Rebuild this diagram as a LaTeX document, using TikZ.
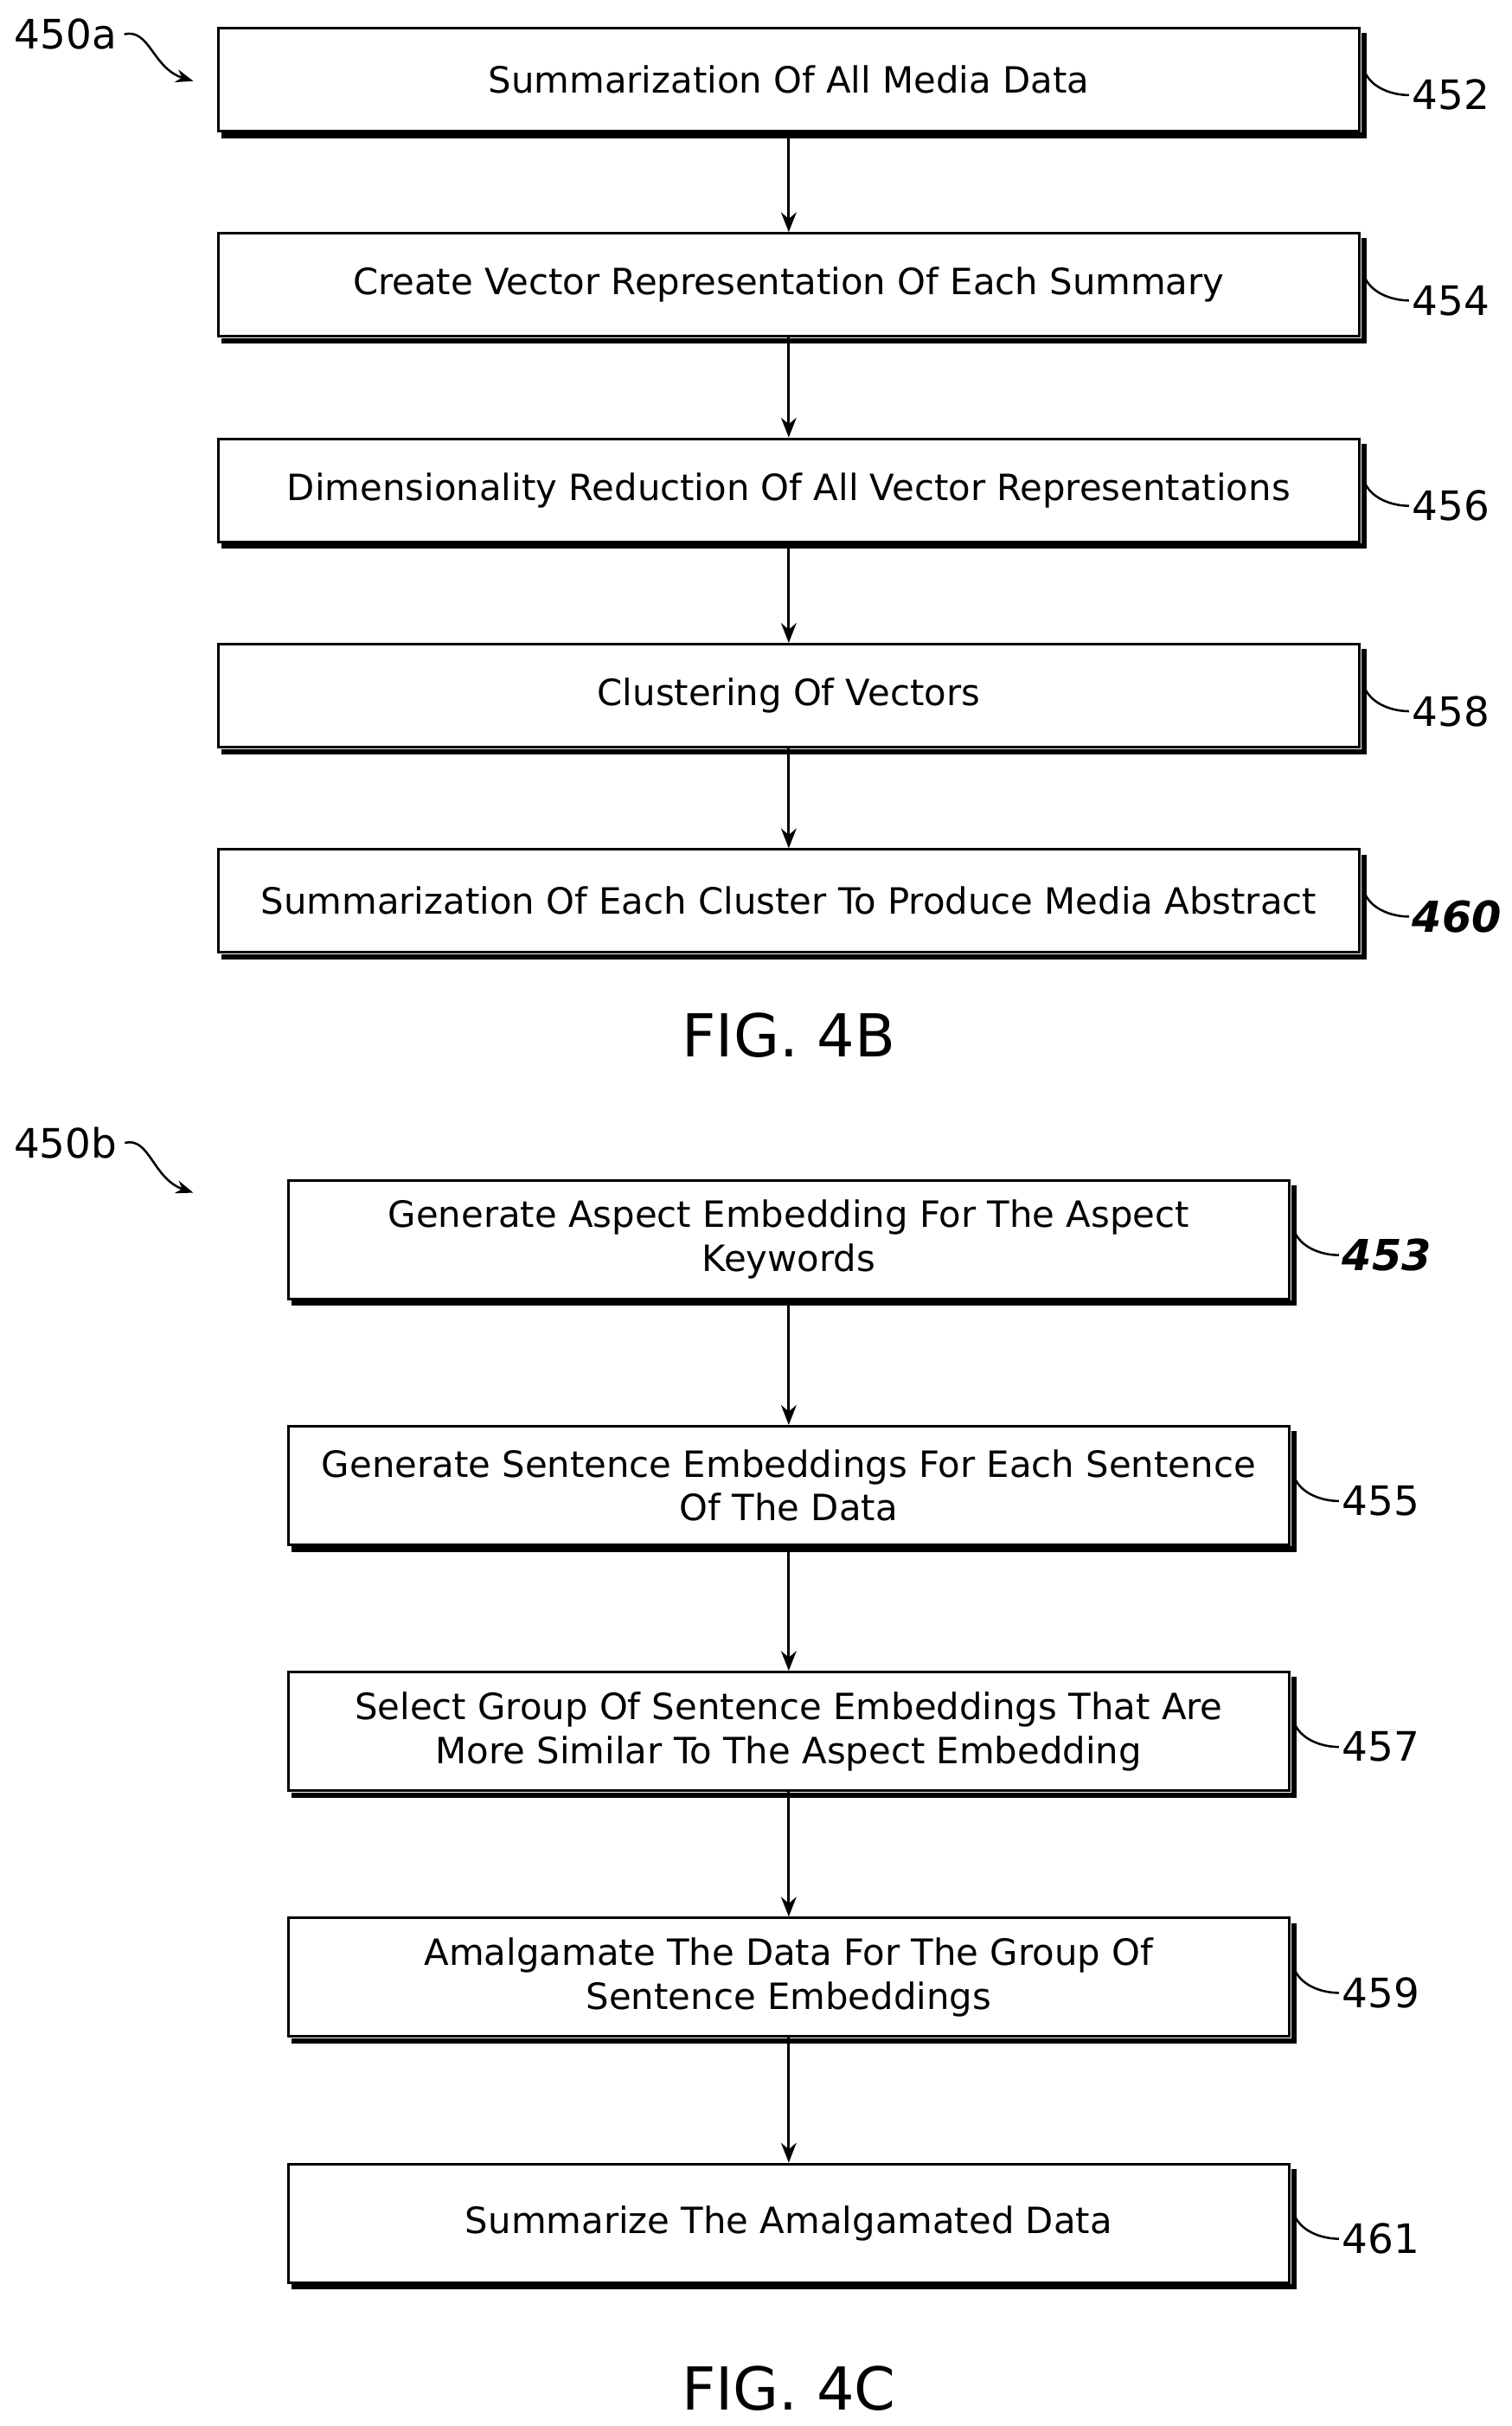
\documentclass[tikz,border=0pt]{standalone}
\usepackage{fontspec}
\setmainfont{DejaVu Sans}
\usetikzlibrary{arrows.meta,positioning}
\tikzset{
  procbox/.style={draw, line width=1.2pt, align=center, inner sep=0pt,
    font=\fontsize{16.5}{20}\selectfont},
  stepa/.style={procbox, minimum width=18.3cm, minimum height=1.65cm},
  stepb/.style={procbox, minimum width=16.05cm, minimum height=1.9cm},
  flow/.style={-{Stealth[length=9pt,width=7pt]}, line width=1.2pt},
  refnum/.style={font=\fontsize{18.5}{22}\selectfont, right, inner sep=1pt},
  fig/.style={font=\fontsize{27}{32}\selectfont}
}
\begin{document}
\begin{tikzpicture}[x=0.025cm, y=-0.025cm]
  \useasboundingbox (0,0) rectangle (970,1556);
  % FIG. 4B
  \node[stepa] (s452) at (506,51) {Summarization Of All Media Data};
  \node[stepa, below=1.6cm of s452] (s454) {Create Vector Representation Of Each Summary};
  \node[stepa, below=1.6cm of s454] (s456) {Dimensionality Reduction Of All Vector Representations};
  \node[stepa, below=1.6cm of s456] (s458) {Clustering Of Vectors};
  \node[stepa, below=1.6cm of s458] (s460) {Summarization Of Each Cluster To Produce Media Abstract};
  \node[fig] (fig4b) at (506,664) {FIG. 4B};
  \node[font=\fontsize{18.5}{22}\selectfont] (r450a) at (42,22) {450a};
  \draw[-{Stealth[length=8pt]}, line width=1pt] (r450a.east) .. controls (96,18) and (98,44) .. (124,52);
  % FIG. 4C
  \node[stepb] (s453) at (506,795) {Generate Aspect Embedding For The Aspect\\Keywords};
  \node[stepb, below=2.0cm of s453] (s455) {Generate Sentence Embeddings For Each Sentence\\Of The Data};
  \node[stepb, below=2.0cm of s455] (s457) {Select Group Of Sentence Embeddings That Are\\More Similar To The Aspect Embedding};
  \node[stepb, below=2.0cm of s457] (s459) {Amalgamate The Data For The Group Of\\Sentence Embeddings};
  \node[stepb, below=2.0cm of s459] (s461) {Summarize The Amalgamated Data};
  \node[fig] (fig4c) at (506,1532) {FIG. 4C};
  \node[font=\fontsize{18.5}{22}\selectfont] (r450b) at (42,733) {450b};
  \draw[-{Stealth[length=8pt]}, line width=1pt] (r450b.east) .. controls (96,729) and (98,756) .. (124,765);
  % arrows
  \foreach \a/\b in {s452/s454,s454/s456,s456/s458,s458/s460,s453/s455,s455/s457,s457/s459,s459/s461}
    \draw[flow] (\a) -- (\b);
  % shadow edges
  \foreach \b in {s452,s454,s456,s458,s460,s453,s455,s457,s459,s461}
    \draw[line width=2.4pt] ([shift={(3,2)}]\b.south west) -- ([shift={(2,2)}]\b.south east) -- ([shift={(2,4)}]\b.north east);
  % reference numerals
  \foreach \b/\t in {s452/452,s454/454,s456/456,s458/458,s455/455,s457/457,s459/459,s461/461}
    \draw[line width=1pt] ([shift={(3,-4)}]\b.east) .. controls +(5,10) and +(-10,0) .. ++(28,14) node[refnum] {\t};
  \foreach \b/\t in {s460/460,s453/453}
    \draw[line width=1pt] ([shift={(3,-4)}]\b.east) .. controls +(5,10) and +(-10,0) .. ++(28,14) node[refnum, font=\fontsize{19.5}{22}\selectfont\bfseries\itshape] {\t};
\end{tikzpicture}
\end{document}
